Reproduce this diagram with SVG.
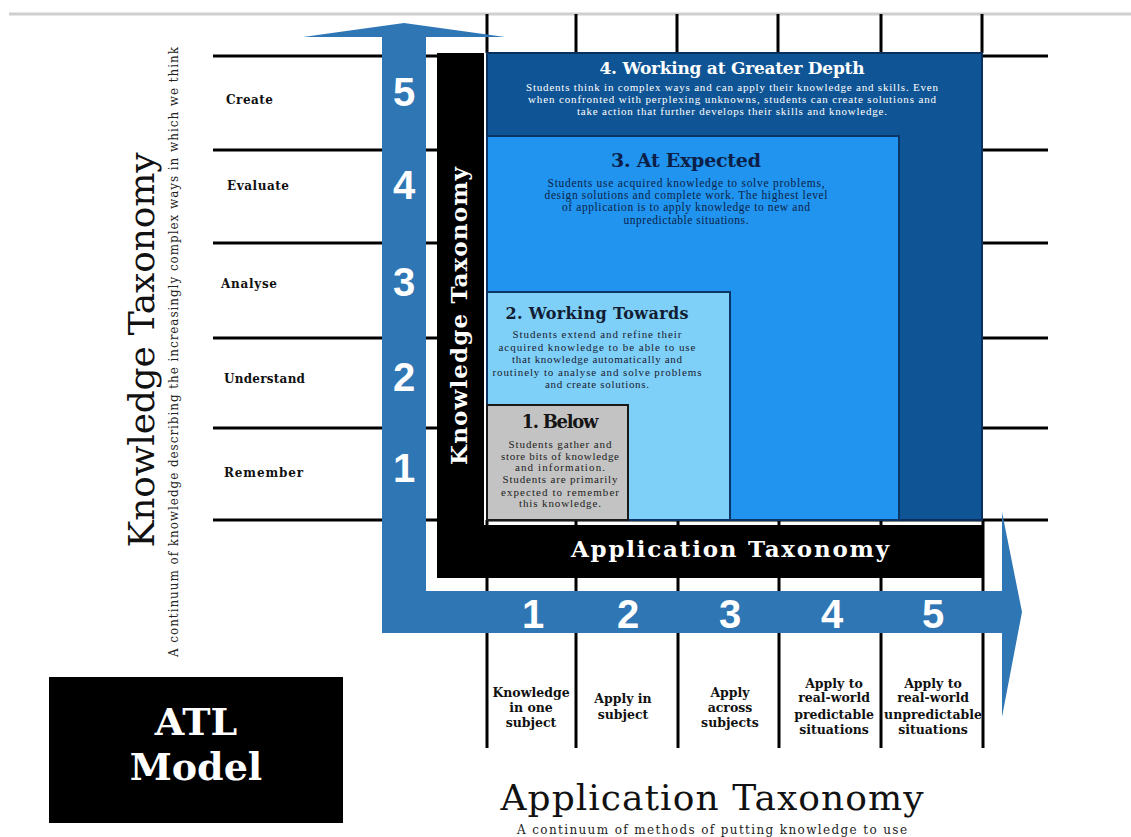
<svg xmlns="http://www.w3.org/2000/svg" width="1131" height="837" viewBox="0 0 1131 837">
<style>
.grid{stroke:#000;stroke-width:3;fill:none}
.slab{font-family:"DejaVu Serif","Liberation Serif",serif;font-weight:bold}
.reg{font-family:"DejaVu Serif","Liberation Serif",serif}
.body{font-family:"Liberation Serif","DejaVu Serif",serif}
.num{font-family:"Liberation Sans",Arial,sans-serif;font-weight:bold;fill:#fff;font-size:40px;text-anchor:middle}
.lbl{font-size:12px;fill:#111}
.cell{font-size:12.5px;fill:#111;text-anchor:middle}
.c{text-anchor:middle}
.box{stroke-width:2}
</style>
<rect width="1131" height="837" fill="#fff"/>
<line x1="9" y1="14" x2="1131" y2="14" stroke="#cfcfcf" stroke-width="3"/>

<g id="grid" class="grid">
  <path d="M213 56H437M213 150H437M213 243H437M213 338H437M213 428H437M213 520H437"/>
  <path d="M982 56H1048M982 150H1048M982 243H1048M982 338H1048M982 428H1048M487 520H1048"/>
  <path d="M487 14V53M576 14V53M677 14V53M778 14V53M881 14V53M982 14V53"/>
  <path d="M487 520V748M576 520V748M678 520V748M779 520V748M881 520V748M983 520V748"/>
</g>

<g id="box4">
  <rect class="box" x="487" y="53" width="495" height="467" fill="#0f5595" stroke="#0a2f5c"/>
  <text class="slab c" x="732" y="74" font-size="17" fill="#fff" textLength="265">4. Working at Greater Depth</text>
  <g class="body c" font-size="11" fill="#fff">
    <text x="732" y="91" textLength="412">Students think in complex ways and can apply their knowledge and skills. Even</text>
    <text x="732" y="103" textLength="408">when confronted with perplexing unknowns, students can create solutions and</text>
    <text x="732" y="115" textLength="310">take action that further develops their skills and knowledge.</text>
  </g>
</g>

<g id="box3">
  <rect class="box" x="487" y="136" width="412" height="384" fill="#2094ef" stroke="#0b3566"/>
  <text class="slab c" x="686" y="167" font-size="19" fill="#0c1f48" textLength="150">3. At Expected</text>
  <g class="body c" font-size="11.5" fill="#0c1f48">
    <text x="686" y="187" textLength="277">Students use acquired knowledge to solve problems,</text>
    <text x="686" y="199" textLength="283">design solutions and complete work. The highest level</text>
    <text x="686" y="211" textLength="248">of application is to apply knowledge to new and</text>
    <text x="686" y="224" textLength="125">unpredictable situations.</text>
  </g>
</g>

<g id="box2">
  <rect class="box" x="487" y="292" width="243" height="228" fill="#7fd0f9" stroke="#0b3566"/>
  <text class="slab c" x="597" y="319" font-size="16" fill="#111d33" textLength="183">2. Working Towards</text>
  <g class="body c" font-size="11" fill="#1a2030">
    <text x="597" y="338" textLength="169">Students extend and refine their</text>
    <text x="597" y="351" textLength="197">acquired knowledge to be able to use</text>
    <text x="597" y="363" textLength="170">that knowledge automatically and</text>
    <text x="597" y="376" textLength="209">routinely to analyse and solve problems</text>
    <text x="597" y="388" textLength="104">and create solutions.</text>
  </g>
</g>

<g id="box1">
  <rect class="box" x="487" y="405" width="141" height="115" fill="#c3c3c3" stroke="#1a1a1a"/>
  <text class="slab c" x="560" y="428" font-size="18" fill="#151515" textLength="77">1. Below</text>
  <g class="body c" font-size="11" fill="#222">
    <text x="560" y="448" textLength="103">Students gather and</text>
    <text x="560" y="460" textLength="118">store bits of knowledge</text>
    <text x="560" y="471" textLength="90">and information.</text>
    <text x="560" y="483" textLength="115">Students are primarily</text>
    <text x="560" y="496" textLength="118">expected to remember</text>
    <text x="560" y="507" textLength="82">this knowledge.</text>
  </g>
</g>

<g id="frame">
  <rect x="437" y="53" width="47" height="525" fill="#000"/>
  <rect x="437" y="525" width="546" height="53" fill="#000"/>
  <text class="slab c" transform="translate(467,316) rotate(-90)" font-size="23" fill="#fff" textLength="298">Knowledge Taxonomy</text>
  <text class="slab c" x="730" y="557" font-size="23" fill="#fff" textLength="318">Application Taxonomy</text>
</g>

<g id="connectors">
  <path d="M303 37L404 23L505 37H426V591H1002V512L1022 612L1002 717V633H382V37Z" fill="#2f76b5"/>
</g>

<g id="arrow-numbers">
  <text class="num" x="404" y="106">5</text>
  <text class="num" x="404" y="199">4</text>
  <text class="num" x="404" y="296">3</text>
  <text class="num" x="404" y="391">2</text>
  <text class="num" x="404" y="482">1</text>
  <text class="num" x="533" y="628">1</text>
  <text class="num" x="628" y="628">2</text>
  <text class="num" x="730" y="628">3</text>
  <text class="num" x="832" y="628">4</text>
  <text class="num" x="933" y="628">5</text>
</g>

<g id="knowledge-levels" class="slab lbl">
  <text x="226" y="104" textLength="47">Create</text>
  <text x="227" y="190" textLength="62">Evaluate</text>
  <text x="221" y="288" textLength="56">Analyse</text>
  <text x="224" y="383" textLength="81">Understand</text>
  <text x="224" y="477" textLength="79">Remember</text>
</g>

<g id="application-levels" class="slab cell">
  <text x="531" y="697">Knowledge</text>
  <text x="531" y="712">in one</text>
  <text x="531" y="727">subject</text>
  <text x="623" y="703">Apply in</text>
  <text x="623" y="719">subject</text>
  <text x="730" y="697">Apply</text>
  <text x="730" y="712">across</text>
  <text x="730" y="727">subjects</text>
  <text x="834" y="688">Apply to</text>
  <text x="834" y="702">real-world</text>
  <text x="834" y="719">predictable</text>
  <text x="834" y="734">situations</text>
  <text x="933" y="688">Apply to</text>
  <text x="933" y="702">real-world</text>
  <text x="933" y="719">unpredictable</text>
  <text x="933" y="734">situations</text>
</g>

<g id="knowledge-title">
  <text class="reg c" transform="translate(154,350) rotate(-90)" font-size="36" fill="#111" textLength="395">Knowledge Taxonomy</text>
  <text class="reg c" transform="translate(178,352) rotate(-90)" font-size="12" fill="#222" textLength="610">A continuum of knowledge describing the increasingly complex ways in which we think</text>
</g>

<g id="application-title">
  <text class="reg c" x="712" y="810" font-size="36" fill="#111" textLength="423">Application Taxonomy</text>
  <text class="reg c" x="712" y="834" font-size="12" fill="#222" textLength="390">A continuum of methods of putting knowledge to use</text>
</g>

<g id="atl-model">
  <rect x="49" y="677" width="294" height="146" fill="#000"/>
  <text class="slab c" x="196" y="735" font-size="38" fill="#fff">ATL</text>
  <text class="slab c" x="196" y="780" font-size="38" fill="#fff">Model</text>
</g>
</svg>
